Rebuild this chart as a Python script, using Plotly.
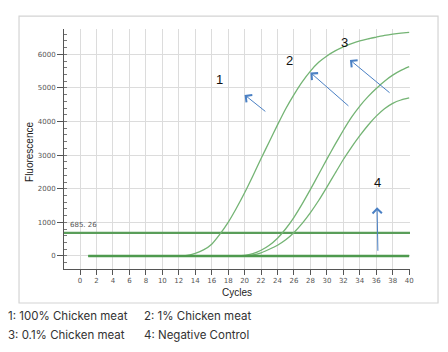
import plotly.graph_objects as go

cycles = list(range(1, 41))
# 1: 100% Chicken meat
s1 = [0]*11 + [0, 20, 80, 180, 350, 650, 1000, 1420, 1880, 2380, 2900, 3400, 3900, 4380,
               4800, 5180, 5500, 5760, 5950, 6100, 6220, 6320, 6400, 6460, 6510, 6560, 6600, 6630, 6650]
# 2: 1% Chicken meat
s2 = [0]*19 + [15, 70, 170, 320, 530, 810, 1150, 1550, 1980, 2430, 2880, 3320, 3740, 4130,
               4460, 4740, 4980, 5200, 5380, 5520, 5630]
# 3: 0.1% Chicken meat
s3 = [0]*19 + [5, 30, 95, 200, 320, 480, 700, 970, 1290, 1650, 2050, 2460, 2870, 3240,
               3580, 3890, 4160, 4380, 4540, 4640, 4700]
# 4: Negative Control
s4 = [0]*40
threshold = 685.26

x_ticks = list(range(0, 41, 2))
y_ticks = [0, 1000, 2000, 3000, 4000, 5000, 6000]
legend_lines = [("1: 100% Chicken meat", "2: 1% Chicken meat"),
                ("3: 0.1% Chicken meat", "4: Negative Control")]

curve_color = "#74b474"
base_color = "#4e9a4e"
arrow_color = "#4a80c4"

fig = go.Figure()
fig.add_trace(go.Scatter(x=[-1.95, 40.1], y=[threshold, threshold], mode="lines",
                         line=dict(color="#5a9e5a", width=2.2), hoverinfo="skip"))
for s in (s1, s2, s3):
    fig.add_trace(go.Scatter(x=cycles, y=s, mode="lines",
                             line=dict(color=curve_color, width=1.3, shape="spline", smoothing=0.5)))
fig.add_trace(go.Scatter(x=cycles, y=s4, mode="lines", line=dict(color=base_color, width=2.4)))

# numbered labels and arrows
labels = [("1", 17.0, 5238), ("2", 25.4, 5804), ("3", 32.1, 6360), ("4", 36.1, 2193)]
for t, lx, ly in labels:
    fig.add_annotation(x=lx, y=ly, text=t, showarrow=False,
                       font=dict(family="Liberation Sans", size=13, color="#111"))
arrows = [((22.7, 4265), (20.0, 4792)),
          ((32.8, 4426), (28.0, 5455)),
          ((37.8, 4821), (32.8, 5833)),
          ((36.2, 110), (36.1, 1449))]
for (tx, ty), (hx, hy) in arrows:
    fig.add_annotation(x=hx, y=hy, ax=tx, ay=ty, axref="x", ayref="y", xref="x", yref="y",
                       text="", showarrow=True, arrowhead=4, arrowsize=1.8,
                       arrowwidth=1.0, arrowcolor=arrow_color)

fig.add_annotation(x=0.37, y=920, text="685. 26", showarrow=False,
                   font=dict(family="DejaVu Sans", size=7, color="#555"))

# y axis title
fig.add_annotation(xref="paper", yref="paper", x=-0.098, y=0.488, text="Fluorescence",
                   textangle=-90, showarrow=False, xanchor="center", yanchor="middle",
                   font=dict(family="Liberation Sans", size=10, color="#222"))

# legend text below
for i, (a, b) in enumerate(legend_lines):
    yp = -0.196 - i * 0.079
    fig.add_annotation(xref="paper", yref="paper", x=-0.167, y=yp, text=a, showarrow=False,
                       xanchor="left", yanchor="middle",
                       font=dict(family="Inter", size=11.5, color="#333"))
    fig.add_annotation(xref="paper", yref="paper", x=0.224, y=yp, text=b, showarrow=False,
                       xanchor="left", yanchor="middle",
                       font=dict(family="Inter", size=11.5, color="#333"))

# frame
fig.add_shape(type="rect", xref="paper", yref="paper", x0=-0.130, x1=1.081, y0=-0.1417, y1=1.054,
              line=dict(color="#d4d4d4", width=1.2), layer="below")

fig.update_layout(
    width=448, height=352,
    margin=dict(l=64, r=38, t=29, b=83),
    paper_bgcolor="white", plot_bgcolor="white",
    showlegend=False,
    xaxis=dict(range=[-1.95, 40.1], tickmode="array", tickvals=x_ticks,
               ticktext=[str(v) for v in x_ticks],
               showgrid=True, gridcolor="#dcdcdc", gridwidth=1,
               showline=True, linecolor="#555", linewidth=1,
               ticks="outside", ticklen=5, tickcolor="#555",
               tickfont=dict(family="DejaVu Sans", size=7, color="#555"),
               zeroline=False,
               title=dict(text="Cycles", font=dict(family="Liberation Sans", size=10, color="#222"),
                          standoff=4)),
    yaxis=dict(range=[-387, 6752], tickmode="array", tickvals=y_ticks,
               showgrid=True, gridcolor="#dcdcdc", gridwidth=1,
               showline=True, linecolor="#555", linewidth=1,
               ticks="outside", ticklen=6, tickcolor="#555",
               tickfont=dict(family="DejaVu Sans", size=7, color="#555"),
               zeroline=False,
               minor=dict(dtick=200, ticks="inside", ticklen=3, tickcolor="#777", showgrid=False)),
)

fig.write_html("out.html")
